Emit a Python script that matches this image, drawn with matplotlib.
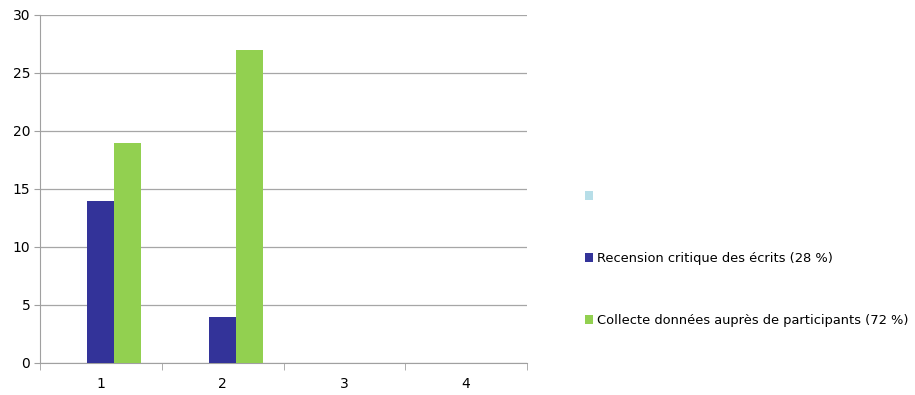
import matplotlib
matplotlib.use("Agg")
import matplotlib.pyplot as plt
import numpy as np

categories = ["1", "2", "3", "4"]
series_names = ["", "Recension critique des écrits (28 %)", "Collecte données auprès de participants (72 %)"]
series0 = [0, 0, 0, 0]
series1 = [14, 4, 0, 0]
series2 = [19, 27, 0, 0]
colors = ["#B7DEE8", "#333399", "#92D050"]
yticks = [0, 5, 10, 15, 20, 25, 30]

plt.rcParams['font.family'] = ['DejaVu Sans']
fig = plt.figure(figsize=(9.15, 3.95), dpi=100)
ax = fig.add_axes([40/915, 32/395, 487/915, 348/395])

x = np.arange(len(categories))
w = 1/4.5
data = [series0, series1, series2]
handles = []
for i, (vals, c, name) in enumerate(zip(data, colors, series_names)):
    b = ax.bar(x + (i - 1) * w, vals, width=w, color=c, label=name, zorder=3)
    handles.append(b)

ax.set_xlim(-0.5, 3.5)
ax.set_ylim(0, 30)
ax.set_yticks(yticks)
ax.set_xticks(x)
ax.set_xticklabels(categories)
ax.set_xticks(np.arange(-0.5, 4.0, 1), minor=True)
ax.tick_params(axis='x', which='major', length=0, pad=10, labelsize=10)
ax.tick_params(axis='x', which='minor', length=5, color='#a0a0a0', direction='out')
ax.tick_params(axis='y', length=4, color='#a0a0a0', labelsize=10, pad=3)
ax.yaxis.grid(True, color='#a6a6a6', linewidth=0.9, zorder=0)
for s in ['top', 'right']:
    ax.spines[s].set_visible(False)
ax.spines['left'].set_color('#a0a0a0')
ax.spines['bottom'].set_color('#a0a0a0')

leg = fig.legend(handles=handles, labels=series_names, loc='upper left',
                 bbox_to_anchor=(585/915, 1 - 190/395), frameon=False,
                 fontsize=9.4, handlelength=0.62, handleheight=0.62,
                 handletextpad=0.3, labelspacing=3.75, borderaxespad=0, borderpad=0)

fig.savefig("out.png", dpi=100)
